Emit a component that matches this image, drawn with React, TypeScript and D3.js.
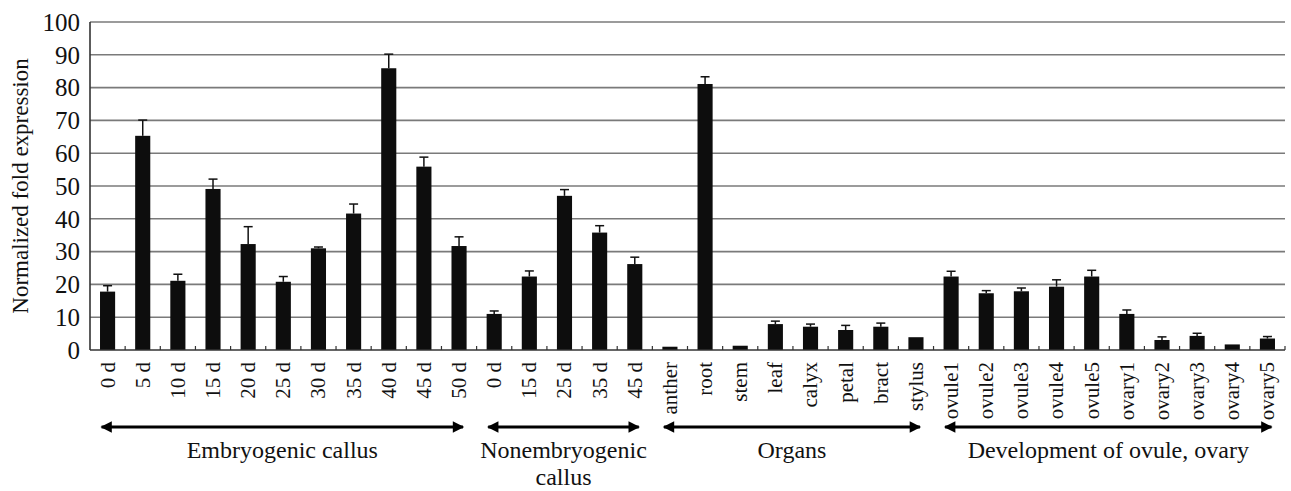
import * as d3 from 'd3';

const categories = [
  '0 d', '5 d', '10 d', '15 d', '20 d', '25 d', '30 d', '35 d', '40 d', '45 d', '50 d',
  '0 d ', '15 d ', '25 d ', '35 d ', '45 d ',
  'anther', 'root', 'stem', 'leaf', 'calyx', 'petal', 'bract', 'stylus',
  'ovule1', 'ovule2', 'ovule3', 'ovule4', 'ovule5', 'ovary1', 'ovary2', 'ovary3', 'ovary4', 'ovary5',
];

const values = [
  17.8, 65.3, 21.1, 49.1, 32.3, 20.8, 31.0, 41.6, 85.9, 55.9, 31.7,
  11.0, 22.4, 47.0, 35.8, 26.2,
  1.0, 81.1, 1.3, 7.9, 7.1, 6.1, 7.1, 3.9,
  22.4, 17.3, 17.9, 19.3, 22.4, 11.0, 3.05, 4.3, 1.7, 3.5,
];

const errors = [
  1.8, 4.8, 2.0, 3.0, 5.3, 1.6, 0.4, 2.9, 4.3, 2.9, 2.8,
  0.9, 1.7, 1.9, 2.1, 2.1,
  0.1, 2.2, 0.1, 0.9, 0.8, 1.4, 1.1, 0.2,
  1.6, 0.8, 1.0, 2.1, 1.9, 1.2, 0.95, 0.8, 0, 0.6,
];

const yTicks = [0, 10, 20, 30, 40, 50, 60, 70, 80, 90, 100];

const groups = [
  { lines: ['Embryogenic callus'], first: 0, last: 10 },
  { lines: ['Nonembryogenic', 'callus'], first: 11, last: 15 },
  { lines: ['Organs'], first: 16, last: 23 },
  { lines: ['Development of ovule, ovary'], first: 24, last: 33 },
];

const W = 1291;
const H = 491;
const margin = { top: 22, right: 6, bottom: 141, left: 90 };
const font = '"Liberation Serif", "Times New Roman", serif';

export default function App() {
  const x = d3.scaleBand<number>()
    .domain(d3.range(categories.length))
    .range([margin.left, W - margin.right])
    .paddingInner(0.57)
    .paddingOuter(0.285);
  const step = x.step();
  const y = d3.scaleLinear().domain([0, 100]).range([H - margin.bottom, margin.top]);
  const cx = (i: number) => (x(i) ?? 0) + x.bandwidth() / 2;
  const y0 = y(0);
  const arrowY = 427;

  return (
    <svg width={W} height={H} style={{ position: 'absolute', left: 0, top: 0, background: '#fff' }} fontFamily={font}>
      <defs>
        <marker id="ah" viewBox="0 0 10 10" refX="9" refY="5" markerWidth="4.4" markerHeight="3.8" orient="auto-start-reverse" markerUnits="strokeWidth">
          <path d="M0,0 L10,5 L0,10 z" fill="#000" />
        </marker>
      </defs>

      {/* grid */}
      {yTicks.filter(t => t > 0).map(t => (
        <line key={t} x1={margin.left} x2={W - margin.right} y1={y(t)} y2={y(t)} stroke="#7a7a7a" strokeWidth={1.6} />
      ))}

      {/* y axis labels */}
      {yTicks.map(t => (
        <text key={t} x={80} y={y(t)} dy="0.35em" textAnchor="end" fontSize={25} fill="#111">{t}</text>
      ))}
      <text transform={`translate(28,${(y(0) + y(100)) / 2}) rotate(-90)`} textAnchor="middle" fontSize={23} fill="#111">
        Normalized fold expression
      </text>

      {/* bars */}
      {values.map((v, i) => (
        <rect key={i} x={x(i)} y={y(v)} width={x.bandwidth()} height={y0 - y(v)} fill="#0d0d0d" />
      ))}

      {/* error bars */}
      {values.map((v, i) => errors[i] > 0.3 ? (
        <g key={i} stroke="#111" strokeWidth={1.5}>
          <line x1={cx(i)} x2={cx(i)} y1={y(v)} y2={y(v + errors[i])} />
          <line x1={cx(i) - 4.5} x2={cx(i) + 4.5} y1={y(v + errors[i])} y2={y(v + errors[i])} />
        </g>
      ) : null)}

      {/* axes */}
      <line x1={margin.left} x2={margin.left} y1={margin.top} y2={y0} stroke="#333" strokeWidth={1.6} />
      <line x1={margin.left} x2={W - margin.right} y1={y0} y2={y0} stroke="#333" strokeWidth={1.6} />
      {d3.range(1, categories.length + 1).map(k => (
        <line key={k} x1={margin.left + step * k} x2={margin.left + step * k} y1={y0 - 4} y2={y0} stroke="#333" strokeWidth={1.2} />
      ))}

      {/* category labels */}
      {categories.map((c, i) => (
        <text key={i} transform={`translate(${cx(i)},362) rotate(-90)`} textAnchor="end" dy="0.33em" fontSize={21} fill="#111">
          {c.trim()}
        </text>
      ))}

      {/* group arrows */}
      {groups.map((g, gi) => {
        const xa = cx(g.first) - 6;
        const xb = cx(g.last) + 4;
        const mid = (xa + xb) / 2;
        return (
          <g key={gi}>
            <line x1={xa} x2={xb} y1={arrowY} y2={arrowY} stroke="#000" strokeWidth={3}
              markerStart="url(#ah)" markerEnd="url(#ah)" />
            {g.lines.map((l, li) => (
              <text key={li} x={mid} y={458 + li * 27} textAnchor="middle" fontSize={24} fill="#111">{l}</text>
            ))}
          </g>
        );
      })}
    </svg>
  );
}
